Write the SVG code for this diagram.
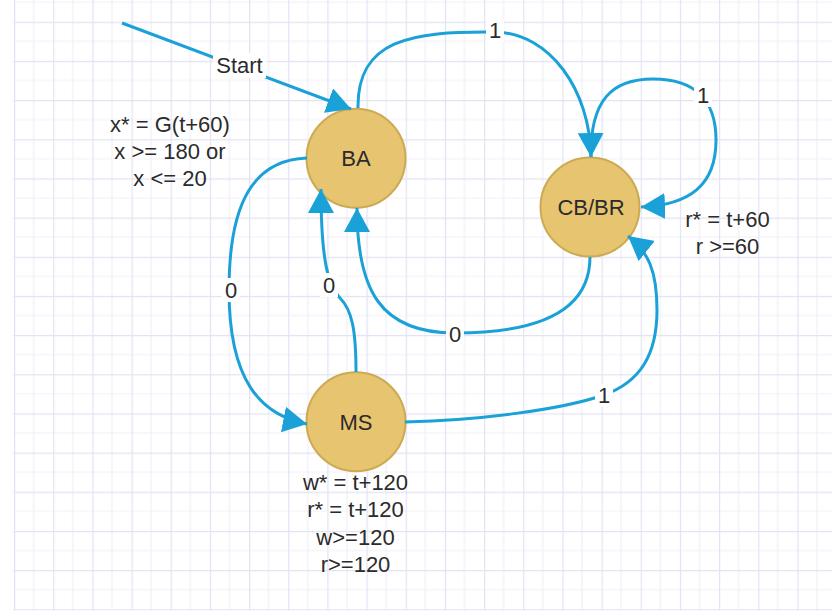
<svg xmlns="http://www.w3.org/2000/svg" width="832" height="613" viewBox="0 0 832 613">
  <style>
    .node circle { fill: #e6c470; stroke: #cdaa52; stroke-width: 2; }
    text { font-family: "Liberation Sans", Arial, sans-serif; font-size: 22px; fill: #2b2b2b; text-anchor: middle; }
    .edge { fill: none; stroke: #1aa1d8; stroke-width: 3; marker-end: url(#arrow); }
    .edge.plain { marker-end: none; }
    .lblbg { fill: #ffffff; }
  </style>
  <defs>
    <marker id="arrow" viewBox="0 0 24 26" markerWidth="24" markerHeight="26" refX="24" refY="13" orient="auto" markerUnits="userSpaceOnUse">
      <path d="M0,0 L24,13 L0,26 Z" fill="#1aa1d8"/>
    </marker>
    <pattern id="grid" x="14" y="21.7" width="39.17" height="39.17" patternUnits="userSpaceOnUse">
      <path d="M19.585,0 V39.17 M0,19.585 H39.17" stroke="#efeff9" stroke-width="1.2" fill="none"/>
      <path d="M0.6,0 V39.17 M0,0.6 H39.17" stroke="#e2e2f4" stroke-width="1.2" fill="none"/>
    </pattern>
  </defs>

  <!-- background and grid paper -->
  <rect x="0" y="0" width="832" height="613" fill="#ffffff"/>
  <rect x="13.4" y="0" width="818.6" height="610.5" fill="url(#grid)"/>

  <!-- states -->
  <g id="node-BA" class="node">
    <circle cx="356" cy="158.3" r="49.5"/>
    <text x="356" y="166">BA</text>
  </g>
  <g id="node-CBBR" class="node">
    <circle cx="590" cy="207" r="49.5"/>
    <text x="591" y="215">CB/BR</text>
  </g>
  <g id="node-MS" class="node">
    <circle cx="356" cy="421.7" r="49.5"/>
    <text x="356" y="430">MS</text>
  </g>

  <!-- state annotations -->
  <g id="note-BA">
    <text x="170" y="132.3">x* = G(t+60)</text>
    <text x="170" y="159">x &gt;= 180 or</text>
    <text x="170" y="186">x &lt;= 20</text>
  </g>
  <g id="note-CBBR">
    <text x="727.5" y="226.7">r* = t+60</text>
    <text x="727.5" y="254">r &gt;=60</text>
  </g>
  <g id="note-MS">
    <text x="355.5" y="490">w* = t+120</text>
    <text x="355.5" y="517.3">r* = t+120</text>
    <text x="355.5" y="544.5">w&gt;=120</text>
    <text x="355.5" y="571.7">r&gt;=120</text>
  </g>

  <!-- transitions -->
  <g id="connectors">
    <path id="e-start" class="edge" d="M122,23 L351,109"/>
    <path id="e-BA-CB" class="edge" d="M358,108 C357,40 410,31 495,32 C550,33 590,90 591,157"/>
    <path id="e-CB-self" class="edge" d="M591,157 C590,100 612,79 653,79 C695,79 716,100 716,140 C716,185 690,205 641,207"/>
    <path id="e-CB-BA" class="edge" d="M590,257 C590,310 540,333 455,333 C380,333 357,290 357,208"/>
    <path id="e-MS-BA" class="edge" d="M356,372 C356,330 352,310 340,298 C328,286 321,260 321,189"/>
    <path id="e-BA-MS" class="edge" d="M307,158 C255,160 229,200 229,290 C229,380 260,415 307,424"/>
    <path id="e-MS-CB" class="edge" d="M405,422 C480,420 560,410 604,395 C640,382 657,355 657,310 C657,270 648,252 628,236"/>

    <!-- transition labels -->
    <rect class="lblbg" x="213" y="53" width="53" height="25"/>
    <text x="239.5" y="73">Start</text>
    <rect class="lblbg" x="486" y="20" width="18" height="22"/>
    <text x="495" y="38.3">1</text>
    <rect class="lblbg" x="694" y="84" width="18" height="23"/>
    <text x="703" y="103">1</text>
    <rect class="lblbg" x="446" y="323" width="18" height="22"/>
    <text x="455" y="341.7">0</text>
    <rect class="lblbg" x="595" y="384" width="18" height="23"/>
    <text x="604" y="403.3">1</text>
    <rect class="lblbg" x="222" y="278" width="18" height="24"/>
    <text x="231" y="298">0</text>
    <rect class="lblbg" x="320" y="273" width="18" height="24"/>
    <text x="329" y="293">0</text>
  </g>
</svg>
